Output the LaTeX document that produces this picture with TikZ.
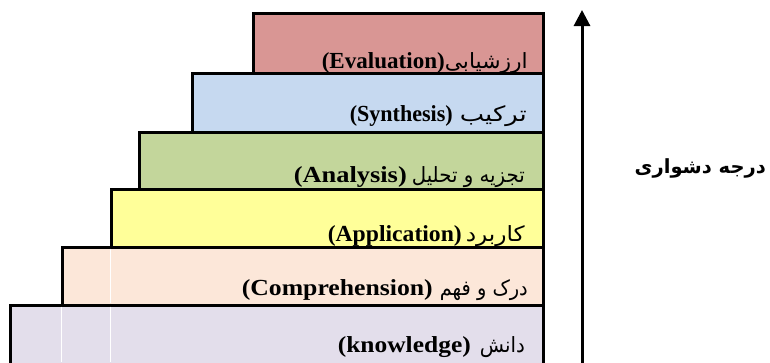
\documentclass[tikz,border=0pt]{standalone}
\usepackage{fontspec}
\usepackage{graphicx}
\setmainfont{Liberation Serif}
\newfontfamily\lat{Liberation Serif}
\newfontfamily\fa[Script=Arabic]{DejaVu Sans}
\TeXXeTstate=1
\usetikzlibrary{arrows.meta}
\definecolor{cEval}{HTML}{D99694}
\definecolor{cSyn}{HTML}{C6D9F0}
\definecolor{cAna}{HTML}{C3D69B}
\definecolor{cApp}{HTML}{FFFF99}
\definecolor{cCom}{HTML}{FCE7D9}
\definecolor{cKno}{HTML}{E3DEEB}
\tikzset{
  stepbox/.style={draw=black, line width=3pt},
  latlabel/.style={anchor=base east, inner sep=0pt, font=\lat\bfseries\fontsize{23}{26}\selectfont},
  falabel/.style={anchor=base east, inner sep=0pt, font=\fa\mdseries\fontsize{21}{24}\selectfont},
  faint/.style={draw=white, line width=0.8pt},
}
\newcommand{\wbox}[2]{\resizebox{#1pt}{\height}{#2}}
\begin{document}
\begin{tikzpicture}[x=1pt,y=-1pt]
\useasboundingbox (0,0) rectangle (770,362);
\clip (0,0) rectangle (770,362);
% boxes
\filldraw[stepbox, fill=cKno] (10,305) rectangle (543,372);
\filldraw[stepbox, fill=cCom] (62,247) rectangle (543,305);
\filldraw[stepbox, fill=cApp] (111,189) rectangle (543,247);
\filldraw[stepbox, fill=cAna] (139,132) rectangle (543,189);
\filldraw[stepbox, fill=cSyn] (192,73) rectangle (543,132);
\filldraw[stepbox, fill=cEval] (253,13) rectangle (543,73);
% faint white lines
\draw[faint] (61,306.6) -- (61,362);
\draw[faint] (110,306.6) -- (110,362);
\draw[faint] (110,248.6) -- (110,303.4);
% labels
\node[falabel]  (evalfa)  at (528,68) {\wbox{83}{\beginR ارزشیابی\endR}};
\node[latlabel] (evalen)  at (445,68) {\wbox{123}{(Evaluation)}};
\node[falabel]  (synfa)   at (527,121) {\wbox{67}{\beginR ترکیب\endR}};
\node[latlabel] (synen)   at (453,121) {\wbox{103}{(Synthesis)}};
\node[falabel]  (anafa)   at (525,182) {\wbox{113}{\beginR تجزیه و تحلیل\endR}};
\node[latlabel] (anaen)   at (407,182) {\wbox{113}{(Analysis)}};
\node[falabel]  (appfa)   at (525,241) {\wbox{59}{\beginR کاربرد\endR}};
\node[latlabel] (appen)   at (462,241) {\wbox{134}{(Application)}};
\node[falabel]  (comfa)   at (528,295) {\wbox{88}{\beginR درک و فهم\endR}};
\node[latlabel] (comen)   at (433,295) {\wbox{191}{(Comprehension)}};
\node[falabel]  (knofa)   at (525,352) {\wbox{45}{\beginR دانش\endR}};
\node[latlabel] (knoen)   at (471,352) {\wbox{133}{(knowledge)}};
% arrow
\coordinate (abot) at (582,366);
\coordinate (atop) at (582,10);
\draw[line width=3pt, -{Triangle[width=16pt,length=16pt]}] (abot) -- (atop);
\node[anchor=base east, inner sep=0pt, font=\fa\bfseries\fontsize{19.5}{22}\selectfont] (lvl) at (766,173) {\beginR درجه دشواری\endR};
\end{tikzpicture}
\end{document}
